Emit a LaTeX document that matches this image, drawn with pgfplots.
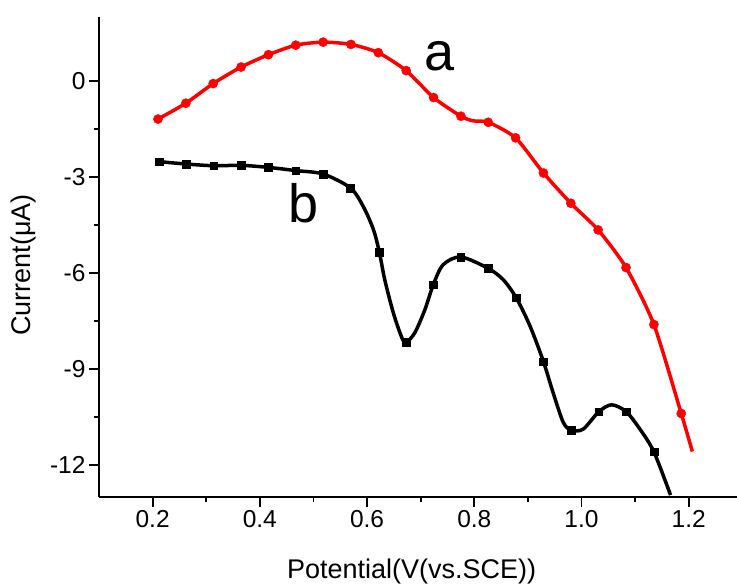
\documentclass[border=0pt]{standalone}
\usepackage{fontspec}
\setmainfont{Liberation Sans}
\usepackage{pgfplots}
\pgfplotsset{compat=1.18}
\begin{document}
\begin{tikzpicture}
\begin{axis}[
  scale only axis, width=638pt, height=480pt,
  xmin=0.1, xmax=1.29, ymin=-13, ymax=2,
  axis x line=bottom, axis y line=left,
  axis line style={-, line width=2pt},
  xtick={0.2,0.4,0.6,0.8,1.0,1.2}, ytick={-12,-9,-6,-3,0},
  minor x tick num=1, minor y tick num=1,
  tick align=outside, major tick length=10pt, minor tick length=5pt,
  every tick/.style={black, line width=1.8pt},
  xticklabel style={/pgf/number format/.cd, fixed, fixed zerofill, precision=1},
  /pgf/number format/assume math mode=true,
  tick label style={font=\fontsize{24.5}{29}\selectfont},
  label style={font=\fontsize{27}{32}\selectfont},
  xlabel={Potential(V(vs.SCE))}, ylabel={Current(μA)},
  xlabel style={at={(axis description cs:0.49,0)}, anchor=base, yshift=-81.3pt},
  ylabel style={at={(axis description cs:-0.107,0.483)}, anchor=base},
]
\coordinate (sw) at (rel axis cs:0,0);
\coordinate (ne) at (rel axis cs:1,1);
% curve a (red)
\addplot[red, line width=3.5pt, smooth, tension=0.4] coordinates {
(0.210,-1.19) (0.262,-0.695) (0.313,-0.08) (0.365,0.436) (0.416,0.822)
(0.467,1.12) (0.518,1.215) (0.570,1.143) (0.621,0.885) (0.673,0.324)
(0.724,-0.517) (0.775,-1.10) (0.798,-1.246) (0.826,-1.29) (0.877,-1.776)
(0.929,-2.875) (0.980,-3.82) (1.031,-4.654) (1.083,-5.83) (1.135,-7.61)
(1.186,-10.39) (1.2067,-11.58)
};
\addplot[red, only marks, mark=*, mark size=4.6pt] coordinates {
(0.210,-1.19) (0.262,-0.695) (0.313,-0.08) (0.365,0.436) (0.416,0.822)
(0.467,1.12) (0.518,1.215) (0.570,1.143) (0.621,0.885) (0.673,0.324)
(0.724,-0.517) (0.775,-1.10) (0.826,-1.29) (0.877,-1.776)
(0.929,-2.875) (0.980,-3.82) (1.031,-4.654) (1.083,-5.83) (1.135,-7.61)
(1.186,-10.39)
};
% curve b (black)
\addplot[black, line width=3.5pt, smooth, tension=0.5] coordinates {
(0.212,-2.52) (0.263,-2.595) (0.314,-2.648) (0.365,-2.636) (0.416,-2.70)
(0.467,-2.80) (0.518,-2.907) (0.569,-3.343) (0.593,-3.925) (0.612,-4.65)
(0.623,-5.358) (0.633,-6.21) (0.649,-7.246) (0.665,-8.025) (0.673,-8.16)
(0.689,-7.87) (0.708,-7.14) (0.7235,-6.364) (0.742,-5.74) (0.775,-5.50)
(0.826,-5.857) (0.854,-6.21) (0.878,-6.77) (0.904,-7.66) (0.929,-8.77)
(0.947,-9.74) (0.966,-10.67) (0.981,-10.91) (1.003,-10.88) (1.032,-10.34)
(1.056,-10.12) (1.083,-10.33) (1.109,-10.88) (1.135,-11.59) (1.166,-12.94)
};
\addplot[black, only marks, mark=square*, mark size=3.8pt] coordinates {
(0.212,-2.52) (0.263,-2.595) (0.314,-2.648) (0.365,-2.636) (0.416,-2.70)
(0.467,-2.80) (0.518,-2.907) (0.569,-3.343) (0.623,-5.358) (0.673,-8.16)
(0.7235,-6.364) (0.775,-5.50) (0.826,-5.857) (0.878,-6.77) (0.929,-8.77)
(0.981,-10.91) (1.032,-10.34) (1.083,-10.33) (1.135,-11.59)
};
\node[font=\fontsize{54}{62}\selectfont, inner sep=0pt] at (axis cs:0.736,0.77) {a};
\node[font=\fontsize{54}{62}\selectfont, inner sep=0pt] at (axis cs:0.481,-3.826) {b};
\end{axis}
\pgfresetboundingbox
\path[use as bounding box] ([shift={(-99pt,-87pt)}]sw) rectangle ([shift={(0pt,17pt)}]ne);
\end{tikzpicture}
\end{document}
